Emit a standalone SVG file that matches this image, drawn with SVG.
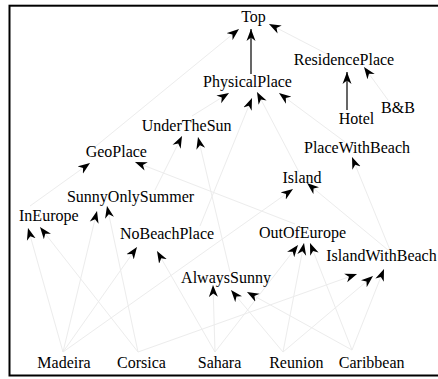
<svg xmlns="http://www.w3.org/2000/svg" width="438" height="379" viewBox="0 0 438 379">
  <style>
    .lbl { font-family: "Liberation Serif", "Times New Roman", serif; font-size: 16px; fill: #000; text-anchor: middle; }
    .e { stroke: #ececec; stroke-width: 1; fill: none; marker-end: url(#arr); }
    .eb { stroke: #000; stroke-width: 1.2; fill: none; marker-end: url(#arr); }
  </style>
  <defs>
    <marker id="arr" markerUnits="userSpaceOnUse" markerWidth="13" markerHeight="10" refX="12" refY="4.5" orient="auto" viewBox="0 0 13 9">
      <path d="M12,4.5 L0,0 L3.5,4.5 L0,9 Z" fill="#000"/>
    </marker>
  </defs>
  <rect x="9.5" y="5.7" width="440" height="369.8" fill="#fff" stroke="#000" stroke-width="2"/>
  <g id="connectors">
    <line class="e" x1="63" y1="352" x2="28" y2="228"/>
    <line class="e" x1="63" y1="352" x2="97" y2="211"/>
    <line class="e" x1="63" y1="352" x2="137" y2="247"/>
    <line class="e" x1="63" y1="352" x2="293" y2="189"/>
    <line class="e" x1="138" y1="352" x2="40" y2="227"/>
    <line class="e" x1="138" y1="352" x2="107" y2="206"/>
    <line class="e" x1="138" y1="352" x2="357" y2="274"/>
    <line class="e" x1="215" y1="352" x2="157" y2="251"/>
    <line class="e" x1="215" y1="352" x2="213" y2="285"/>
    <line class="e" x1="215" y1="352" x2="298" y2="245"/>
    <line class="e" x1="283" y1="352" x2="231" y2="290"/>
    <line class="e" x1="283" y1="352" x2="304" y2="243"/>
    <line class="e" x1="283" y1="352" x2="373" y2="276"/>
    <line class="e" x1="352" y1="350" x2="247" y2="292"/>
    <line class="e" x1="352" y1="350" x2="310" y2="243"/>
    <line class="e" x1="352" y1="350" x2="384" y2="269"/>
    <line class="e" x1="30" y1="206" x2="90" y2="163"/>
    <line class="e" x1="295" y1="224" x2="135" y2="162"/>
    <line class="e" x1="96" y1="146" x2="239" y2="29"/>
    <line class="eb" x1="251" y1="74" x2="251" y2="29"/>
    <line class="e" x1="327" y1="54" x2="269" y2="24"/>
    <line class="eb" x1="347" y1="110" x2="347" y2="72"/>
    <line class="e" x1="388" y1="100" x2="364" y2="67"/>
    <line class="e" x1="192" y1="116" x2="229" y2="93"/>
    <line class="e" x1="200" y1="226" x2="252" y2="98"/>
    <line class="e" x1="299" y1="172" x2="257" y2="92"/>
    <line class="e" x1="345" y1="142" x2="279" y2="93"/>
    <line class="e" x1="155" y1="190" x2="182" y2="136"/>
    <line class="e" x1="230" y1="272" x2="198" y2="137"/>
    <line class="e" x1="390" y1="250" x2="352" y2="157"/>
    <line class="e" x1="388" y1="250" x2="307" y2="183"/>
  </g>
  <g id="n-top"><text class="lbl" x="253.5" y="22">Top</text></g>
  <g id="n-residenceplace"><text class="lbl" x="344" y="65">ResidencePlace</text></g>
  <g id="n-physicalplace"><text class="lbl" x="247.5" y="87">PhysicalPlace</text></g>
  <g id="n-hotel"><text class="lbl" x="356.5" y="124">Hotel</text></g>
  <g id="n-bb"><text class="lbl" x="398" y="113">B&amp;B</text></g>
  <g id="n-placewithbeach"><text class="lbl" x="357" y="153">PlaceWithBeach</text></g>
  <g id="n-island"><text class="lbl" x="302" y="183">Island</text></g>
  <g id="n-underthesun"><text class="lbl" x="186.7" y="131">UnderTheSun</text></g>
  <g id="n-geoplace"><text class="lbl" x="116.3" y="157">GeoPlace</text></g>
  <g id="n-sunnyonlysummer"><text class="lbl" x="130.5" y="202">SunnyOnlySummer</text></g>
  <g id="n-ineurope"><text class="lbl" x="48.8" y="220.5">InEurope</text></g>
  <g id="n-nobeachplace"><text class="lbl" x="167" y="239">NoBeachPlace</text></g>
  <g id="n-alwayssunny"><text class="lbl" x="226" y="283">AlwaysSunny</text></g>
  <g id="n-outofeurope"><text class="lbl" x="302.5" y="238">OutOfEurope</text></g>
  <g id="n-islandwithbeach"><text class="lbl" x="381.5" y="261">IslandWithBeach</text></g>
  <g id="n-madeira"><text class="lbl" x="64" y="368">Madeira</text></g>
  <g id="n-corsica"><text class="lbl" x="141.5" y="368">Corsica</text></g>
  <g id="n-sahara"><text class="lbl" x="219.5" y="368">Sahara</text></g>
  <g id="n-reunion"><text class="lbl" x="296.3" y="368">Reunion</text></g>
  <g id="n-caribbean"><text class="lbl" x="371.7" y="368">Caribbean</text></g>
</svg>
